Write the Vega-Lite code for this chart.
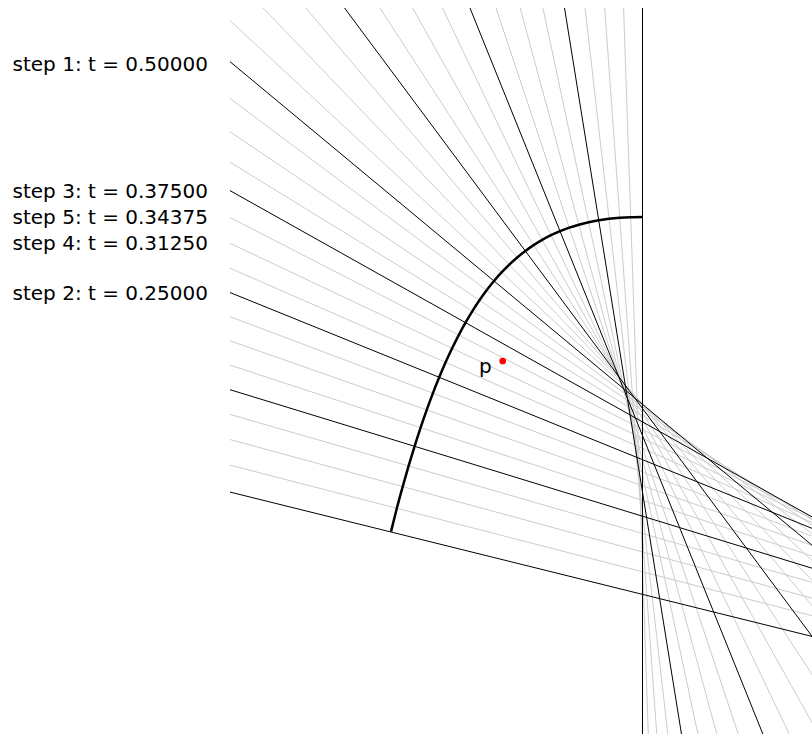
{
  "$schema": "https://vega.github.io/schema/vega-lite/v6.json",
  "width": 582,
  "height": 726,
  "autosize": {"type": "none"},
  "padding": {"left": 230, "top": 8, "right": 0, "bottom": 0},
  "background": "white",
  "config": {"view": {"stroke": null}, "font": "DejaVu Sans"},
  "datasets": {
    "normals": [
      {"k":0,"end":0,"x":-94.3,"y":411.63,"kind":"key"},{"k":0,"end":1,"x":1167.47,"y":724.58,"kind":"key"},
      {"k":1,"end":0,"x":-87.25,"y":383.09,"kind":"grid"},{"k":1,"end":1,"x":1171.35,"y":708.58,"kind":"grid"},
      {"k":2,"end":0,"x":-79.7,"y":355.08,"kind":"grid"},{"k":2,"end":1,"x":1174.54,"y":697.02,"kind":"grid"},
      {"k":3,"end":0,"x":-71.78,"y":327.29,"kind":"grid"},{"k":3,"end":1,"x":1177.23,"y":687.81,"kind":"grid"},
      {"k":4,"end":0,"x":-63.45,"y":299.69,"kind":"key"},{"k":4,"end":1,"x":1179.42,"y":680.87,"kind":"key"},
      {"k":5,"end":0,"x":-54.5,"y":271.89,"kind":"grid"},{"k":5,"end":1,"x":1180.81,"y":676.84,"kind":"grid"},
      {"k":6,"end":0,"x":-45.0,"y":244.18,"kind":"grid"},{"k":6,"end":1,"x":1181.49,"y":675.13,"kind":"grid"},
      {"k":7,"end":0,"x":-34.92,"y":216.75,"kind":"grid"},{"k":7,"end":1,"x":1181.48,"y":675.42,"kind":"grid"},
      {"k":8,"end":0,"x":-24.18,"y":189.53,"kind":"key"},{"k":8,"end":1,"x":1180.65,"y":677.76,"kind":"key"},
      {"k":9,"end":0,"x":-12.58,"y":162.18,"kind":"grid"},{"k":9,"end":1,"x":1178.71,"y":682.64,"kind":"grid"},
      {"k":10,"end":0,"x":0.07,"y":134.59,"kind":"grid"},{"k":10,"end":1,"x":1175.39,"y":690.18,"kind":"grid"},
      {"k":11,"end":0,"x":14.02,"y":106.51,"kind":"grid"},{"k":11,"end":1,"x":1170.28,"y":700.74,"kind":"grid"},
      {"k":12,"end":0,"x":29.38,"y":78.12,"kind":"key"},{"k":12,"end":1,"x":1163.29,"y":713.92,"kind":"key"},
      {"k":13,"end":0,"x":46.34,"y":49.38,"kind":"grid"},{"k":13,"end":1,"x":1154.07,"y":729.79,"kind":"grid"},
      {"k":14,"end":0,"x":65.15,"y":20.33,"kind":"grid"},{"k":14,"end":1,"x":1142.27,"y":748.23,"kind":"grid"},
      {"k":15,"end":0,"x":86.16,"y":-9.11,"kind":"grid"},{"k":15,"end":1,"x":1127.38,"y":769.27,"kind":"grid"},
      {"k":16,"end":0,"x":109.41,"y":-38.53,"kind":"key"},{"k":16,"end":1,"x":1109.34,"y":792.24,"kind":"key"},
      {"k":17,"end":0,"x":134.97,"y":-67.59,"kind":"grid"},{"k":17,"end":1,"x":1088.05,"y":816.51,"kind":"grid"},
      {"k":18,"end":0,"x":163.19,"y":-96.27,"kind":"grid"},{"k":18,"end":1,"x":1062.99,"y":842.02,"kind":"grid"},
      {"k":19,"end":0,"x":193.99,"y":-124.05,"kind":"grid"},{"k":19,"end":1,"x":1034.31,"y":867.85,"kind":"grid"},
      {"k":20,"end":0,"x":226.85,"y":-150.19,"kind":"key"},{"k":20,"end":1,"x":1002.86,"y":892.79,"kind":"key"},
      {"k":21,"end":0,"x":261.69,"y":-174.47,"kind":"grid"},{"k":21,"end":1,"x":968.78,"y":916.43,"kind":"grid"},
      {"k":22,"end":0,"x":298.28,"y":-196.59,"kind":"grid"},{"k":22,"end":1,"x":932.5,"y":938.22,"kind":"grid"},
      {"k":23,"end":0,"x":335.51,"y":-215.94,"kind":"grid"},{"k":23,"end":1,"x":895.78,"y":957.13,"kind":"grid"},
      {"k":24,"end":0,"x":372.97,"y":-232.5,"kind":"key"},{"k":24,"end":1,"x":859.33,"y":973.09,"kind":"key"},
      {"k":25,"end":0,"x":411.07,"y":-246.61,"kind":"grid"},{"k":25,"end":1,"x":822.49,"y":986.57,"kind":"grid"},
      {"k":26,"end":0,"x":448.17,"y":-257.9,"kind":"grid"},{"k":26,"end":1,"x":787.93,"y":996.93,"kind":"grid"},
      {"k":27,"end":0,"x":484.26,"y":-266.71,"kind":"grid"},{"k":27,"end":1,"x":755.67,"y":1004.66,"kind":"grid"},
      {"k":28,"end":0,"x":519.22,"y":-273.32,"kind":"key"},{"k":28,"end":1,"x":725.95,"y":1010.14,"kind":"key"},
      {"k":29,"end":0,"x":552.5,"y":-277.96,"kind":"grid"},{"k":29,"end":1,"x":699.66,"y":1013.69,"kind":"grid"},
      {"k":30,"end":0,"x":584.01,"y":-280.92,"kind":"grid"},{"k":30,"end":1,"x":676.96,"y":1015.75,"kind":"grid"},
      {"k":31,"end":0,"x":613.7,"y":-282.51,"kind":"grid"},{"k":31,"end":1,"x":657.94,"y":1016.74,"kind":"grid"},
      {"k":32,"end":0,"x":642.5,"y":-283,"kind":"key"},{"k":32,"end":1,"x":642.5,"y":1017,"kind":"key"}
    ],
    "curve": [
      {"k":0,"x":391,"y":531.6},{"k":1,"x":396.83,"y":508.28},{"k":2,"x":402.7,"y":486.6},
      {"k":3,"x":408.61,"y":465.95},{"k":4,"x":414.58,"y":446.3},{"k":5,"x":420.62,"y":427.64},
      {"k":6,"x":426.73,"y":409.93},{"k":7,"x":432.93,"y":393.16},{"k":8,"x":439.22,"y":377.31},
      {"k":9,"x":445.61,"y":362.36},{"k":10,"x":452.12,"y":348.28},{"k":11,"x":458.74,"y":335.06},
      {"k":12,"x":465.5,"y":322.66},{"k":13,"x":472.39,"y":311.08},{"k":14,"x":479.43,"y":300.29},
      {"k":15,"x":486.63,"y":290.27},{"k":16,"x":494.0,"y":281.0},{"k":17,"x":501.54,"y":272.45},
      {"k":18,"x":509.27,"y":264.61},{"k":19,"x":517.19,"y":257.45},{"k":20,"x":525.32,"y":250.96},
      {"k":21,"x":533.65,"y":245.11},{"k":22,"x":542.21,"y":239.88},{"k":23,"x":551.0,"y":235.24},
      {"k":24,"x":560.03,"y":231.19},{"k":25,"x":569.31,"y":227.69},{"k":26,"x":578.85,"y":224.73},
      {"k":27,"x":588.65,"y":222.28},{"k":28,"x":598.73,"y":220.32},{"k":29,"x":609.1,"y":218.83},
      {"k":30,"x":619.76,"y":217.8},{"k":31,"x":630.72,"y":217.2},{"k":32,"x":642.5,"y":217}
    ],
    "steps": [
      {"label":"step 1: t = 0.50000","x":230,"y":63.5},
      {"label":"step 3: t = 0.37500","x":230,"y":190.5},
      {"label":"step 5: t = 0.34375","x":230,"y":216.2},
      {"label":"step 4: t = 0.31250","x":230,"y":242.8},
      {"label":"step 2: t = 0.25000","x":230,"y":292.6}
    ],
    "target": [{"name":"p","x":502.7,"y":361}]
  },
  "encoding": {
    "x": {"field": "x", "type": "quantitative", "scale": {"domain": [230, 812], "nice": false, "zero": false}, "axis": null},
    "y": {"field": "y", "type": "quantitative", "scale": {"domain": [8, 734], "reverse": true, "nice": false, "zero": false}, "axis": null}
  },
  "layer": [
    {
      "data": {"name": "normals"},
      "transform": [{"filter": {"field": "kind", "equal": "grid"}}],
      "mark": {"type": "line", "clip": true, "color": "#cccccc", "strokeWidth": 1},
      "encoding": {"detail": {"field": "k"}, "order": {"field": "end"}}
    },
    {
      "data": {"name": "normals"},
      "transform": [{"filter": {"field": "kind", "equal": "key"}}],
      "mark": {"type": "line", "clip": true, "color": "#000000", "strokeWidth": 1},
      "encoding": {"detail": {"field": "k"}, "order": {"field": "end"}}
    },
    {
      "data": {"name": "curve"},
      "mark": {"type": "line", "clip": true, "color": "#000000", "strokeWidth": 2.5, "interpolate": "monotone"},
      "encoding": {"order": {"field": "k"}}
    },
    {
      "data": {"name": "target"},
      "mark": {"type": "circle", "color": "#ff0000", "opacity": 1, "size": 45}
    },
    {
      "data": {"name": "target"},
      "mark": {"type": "text", "align": "right", "baseline": "alphabetic", "dx": -11, "dy": 12, "fontSize": 20, "color": "#000000"},
      "encoding": {"text": {"field": "name"}}
    },
    {
      "data": {"name": "steps"},
      "mark": {"type": "text", "align": "right", "baseline": "middle", "dx": -22, "dy": 1.3, "fontSize": 20, "color": "#000000", "clip": false},
      "encoding": {"text": {"field": "label"}}
    }
  ]
}
